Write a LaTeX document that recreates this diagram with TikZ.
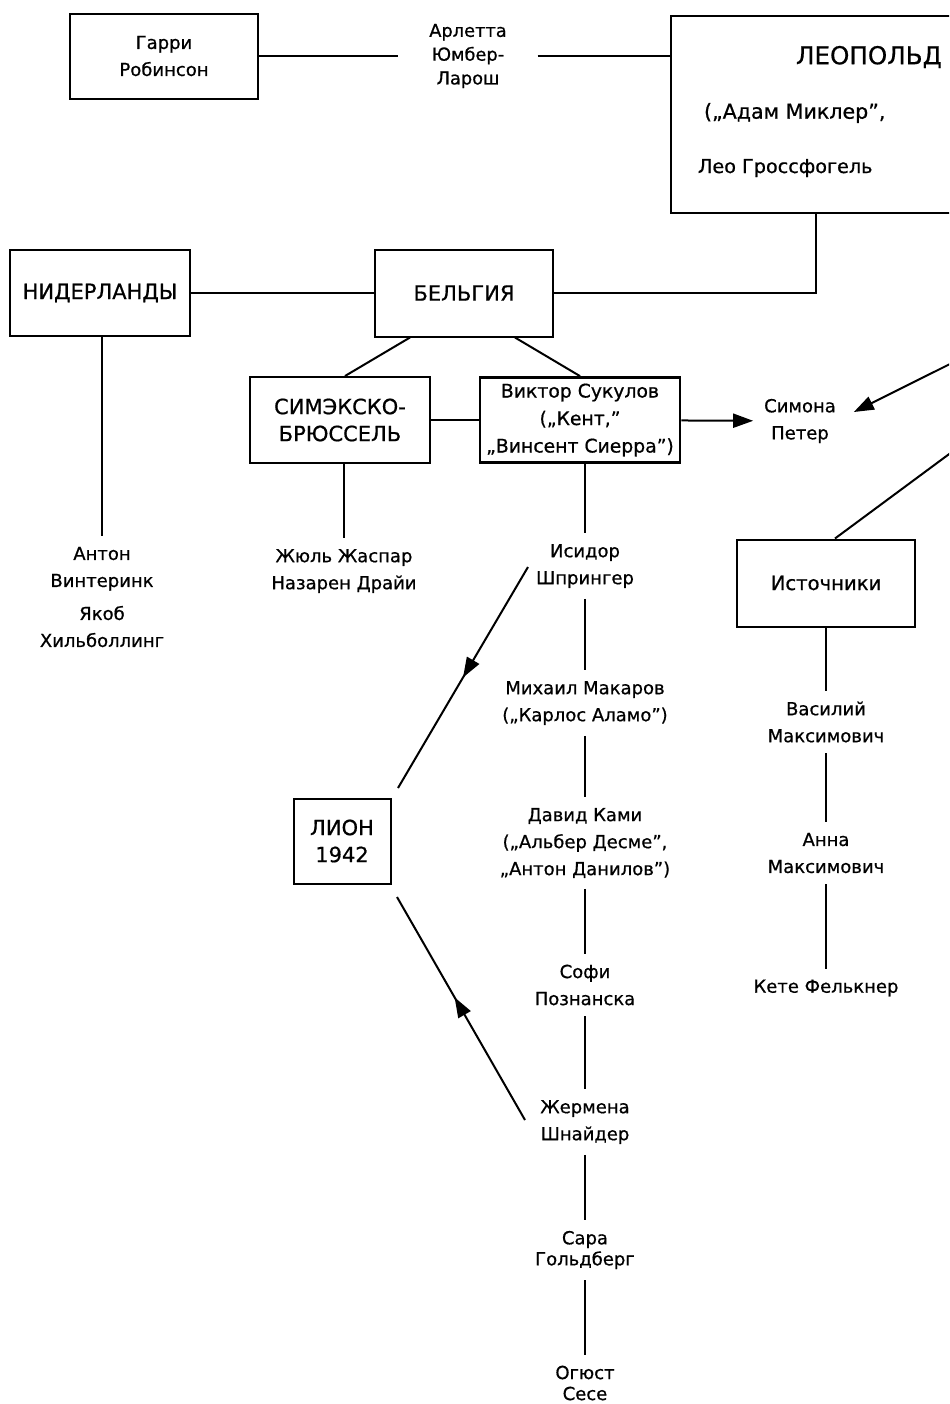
\documentclass[tikz,border=0pt]{standalone}
\usepackage{fontspec}
\setmainfont{DejaVu Sans}[FakeBold=0.7]
\usetikzlibrary{arrows.meta,decorations.markings}

\begin{document}
\begin{tikzpicture}[x=0.5pt,y=-0.5pt,line width=1pt,
  box/.style={draw,align=center,inner sep=2pt,font=\fontsize{10.5}{13.5}\selectfont},
  person/.style={align=center,inner sep=5pt,font=\fontsize{9}{13.5}\selectfont},
  tip/.style={-{Triangle[length=10pt,width=7pt]}},
  midtip/.style={postaction={decorate},decoration={markings,
    mark=at position #1 with {\arrow{Triangle[length=10pt,width=7pt]}}}}]
\clip (0,0) rectangle (949,1404);

% top row
\node[box,minimum width=94pt,minimum height=42.5pt,font=\fontsize{9}{13.5}\selectfont] (harry) at (164,56) {Гарри\\Робинсон};
\node[person,inner xsep=15pt,font=\fontsize{8.9}{11.9}\selectfont] (arletta) at (468,56) {Арлетта\\Юмбер-\\Ларош};
\node[box,anchor=north west,minimum width=145pt,minimum height=98.5pt] (leopold) at (670,15) {};
\node[anchor=west,inner sep=0pt,font=\fontsize{12.3}{14}\selectfont] (leoname) at (795,57) {ЛЕОПОЛЬД};
\node[anchor=west,inner sep=0pt,font=\fontsize{10.3}{13}\selectfont] (leoalias) at (703,113) {(„Адам Миклер”,};
\node[anchor=west,inner sep=0pt,font=\fontsize{9.6}{13}\selectfont] (leoreal) at (697,168) {Лео Гроссфогель};

% boxes
\node[box,minimum width=90pt,minimum height=43pt] (nl) at (100,293) {НИДЕРЛАНДЫ};
\node[box,minimum width=89pt,minimum height=43.5pt] (belgium) at (464,293) {БЕЛЬГИЯ};
\node[box,minimum width=90pt,minimum height=43pt] (simexco) at (340,420) {СИМЭКСКО-\\БРЮССЕЛЬ};
\node[box,line width=1.4pt,inner sep=1pt,minimum width=100pt,minimum height=42.5pt,font=\fontsize{9.4}{13.75}\selectfont] (kent) at (580,420) {Виктор Сукулов\\(„Кент,”\\„Винсент Сиерра”)};
\node[person] (simona) at (800,421) {Симона\\Петер};
\node[box,minimum width=89pt,minimum height=43.5pt,font=\fontsize{9.8}{13.5}\selectfont] (sources) at (826,583) {Источники};
\node[box,minimum width=48.5pt,minimum height=42.5pt] (lyon) at (342,841) {ЛИОН\\1942};

% people
\node[person] (anton) at (102,597) {Антон\\Винтеринк\\[3pt]Якоб\\Хильболлинг};
\node[person] (jules) at (344,571) {Жюль Жаспар\\Назарен Драйи};
\node[person] (isidor) at (585,566) {Исидор\\Шпрингер};
\node[person] (makarov) at (585,703) {Михаил Макаров\\(„Карлос Аламо”)};
\node[person] (kami) at (585,843) {Давид Ками\\(„Альбер Десме”,\\„Антон Данилов”)};
\node[person] (sofi) at (585,985) {Софи\\Познанска};
\node[person] (germaine) at (585,1122) {Жермена\\Шнайдер};
\node[person,font=\fontsize{9}{10.5}\selectfont] (sara) at (585,1250) {Сара\\Гольдберг};
\node[person,font=\fontsize{9}{10.5}\selectfont] (ogust) at (585,1383) {Огюст\\Сесе};
\node[person] (vasiliy) at (826,722) {Василий\\Максимович};
\node[person] (anna) at (826,853) {Анна\\Максимович};
\node[person] (kete) at (826,988) {Кете Фелькнер};

\coordinate (isidorL) at (528,567);
\coordinate (lyonN) at (398,788);
\coordinate (lyonS) at (397,897);
\coordinate (germL) at (525,1120);
\coordinate (offA) at (960,359);
\coordinate (offB) at (960,446);

% connectors
\draw (harry) -- (arletta);
\draw (arletta.east) -- (arletta.east -| leopold.west);
\draw (leopold.south) |- (belgium);
\draw (nl) -- (belgium);
\draw ([xshift=-27pt]belgium.south) -- ([xshift=2.5pt]simexco.north);
\draw ([xshift=25.5pt]belgium.south) -- (kent.north);
\draw (simexco) -- (kent);
\draw[tip] (kent) -- (simona);
\draw[tip] (offA) -- ([shift={(3.5pt,4.5pt)}]simona.east);
\draw (offB) -- ([xshift=4.5pt]sources.north);
\draw (anton.north |- nl.south) -- (anton);
\draw (jules.north |- simexco.south) -- (jules);
\draw (isidor.north |- kent.south) -- (isidor);
\foreach \a/\b in {isidor/makarov,makarov/kami,kami/sofi,sofi/germaine,germaine/sara,sara/ogust,
  sources/vasiliy,vasiliy/anna,anna/kete}
  \draw (\a) -- (\b);
\draw[midtip=0.5] (isidorL) -- (lyonN);
\draw[midtip=0.55] (germL) -- (lyonS);
\end{tikzpicture}
\end{document}
